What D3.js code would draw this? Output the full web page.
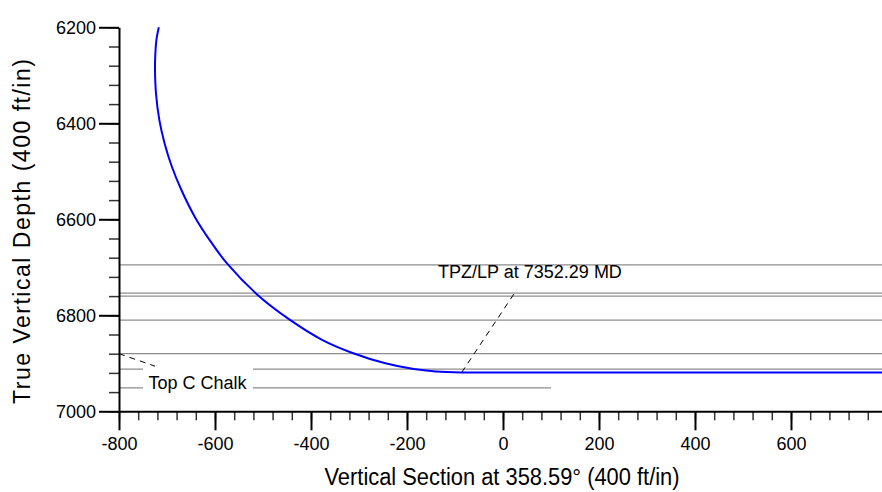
<!DOCTYPE html>
<html>
<head>
<meta charset="utf-8">
<script src="https://cdn.jsdelivr.net/npm/d3@7"></script>
<style>
  html,body{margin:0;padding:0;background:#fff;}
  svg{display:block;font-family:"Liberation Sans",Arial,Helvetica,sans-serif;}
</style>
</head>
<body>
<svg id="chart" width="882" height="492"></svg>
<script>
// well path (vertical section ft, TVD ft)
const wellVS  = [-717, -722, -724.5, -725, -723, -716, -705, -690, -670, -642, -610, -575, -513, -446, -377, -312, -245, -186, -140, -86, 0, 790];
const wellTVD = [6200, 6226, 6260, 6289, 6337, 6393, 6442, 6490, 6539, 6595, 6645, 6692, 6756, 6808, 6851, 6879, 6900, 6912, 6917, 6919, 6919, 6919];

// formation tops (TVD) and the VS where each line stops
const topsTVD   = [6695, 6754, 6760, 6810, 6880, 6912, 6951];
const topsEndVS = [800, 800, 800, 800, 800, 800, 100];

const xTicks = [-800, -600, -400, -200, 0, 200, 400, 600];
const yTicks = [6200, 6400, 6600, 6800, 7000];

const labels = ['TPZ/LP at 7352.29 MD', 'Top C Chalk'];
const xTitle = 'Vertical Section at 358.59\u00b0 (400 ft/in)';
const yTitle = 'True Vertical Depth (400 ft/in)';

const svg=d3.select('#chart');
const x=d3.scaleLinear().domain([-800, 789.6]).range([119, 882]);
const y=d3.scaleLinear().domain([6200, 7000]).range([27.3, 411.3]);
const grey='#8c8c8c', font='18px';

// formation top lines
svg.append('g').selectAll('line').data(topsTVD).enter().append('line')
  .attr('x1',x(-800)).attr('x2',(d,i)=>x(topsEndVS[i]))
  .attr('y1',d=>y(d)).attr('y2',d=>y(d))
  .attr('stroke',grey).attr('stroke-width',1.2);

// "Top C Chalk" label with white box over the lines
const chalk=svg.append('g');
chalk.append('rect').attr('x',143).attr('y',362).attr('width',110).attr('height',34).attr('fill','#fff');
chalk.append('line').attr('x1',x(-800)).attr('y1',y(6880)).attr('x2',x(-725)).attr('y2',y(6906))
  .attr('stroke','#000').attr('stroke-width',1).attr('stroke-dasharray','6,5');
chalk.append('text').attr('x',197.5).attr('y',389).attr('text-anchor','middle')
  .style('font-size',font).text(labels[1]);

// well path
const line=d3.line().x((d,i)=>x(wellVS[i])).y((d,i)=>y(wellTVD[i])).curve(d3.curveCatmullRom.alpha(0.5));
svg.append('path').datum(wellVS).attr('d',line).attr('fill','none').attr('stroke','#0000ff').attr('stroke-width',2);

// TPZ/LP leader + label
svg.append('line').attr('x1',x(-86)).attr('y1',y(6919)).attr('x2',x(28.5)).attr('y2',y(6747))
  .attr('stroke','#000').attr('stroke-width',1).attr('stroke-dasharray','6,5');
svg.append('text').attr('x',530).attr('y',277.7).attr('text-anchor','middle')
  .style('font-size',font).text(labels[0]);

// axes
function styleAxis(g){
  g.select('.domain').attr('stroke','#000').attr('stroke-width',2);
  g.selectAll('.tick line').attr('stroke','#000').attr('stroke-width',2);
  g.selectAll('.tick text').attr('fill','#000').style('font-size',font).style('font-family','"Liberation Sans",Arial,sans-serif');
}
const gx=svg.append('g').attr('transform','translate(0,411.3)');
gx.append('g').call(d3.axisBottom(x).tickValues(d3.range(-800,780,40)).tickSize(9).tickSizeOuter(0).tickFormat(''))
  .call(g=>{g.select('.domain').remove(); g.selectAll('.tick line').attr('stroke','#333').attr('stroke-width',1.5);});
gx.append('g').call(d3.axisBottom(x).tickValues(xTicks).tickSize(19).tickSizeOuter(0).tickPadding(7).tickFormat(d=>String(d)))
  .call(styleAxis);

const gy=svg.append('g').attr('transform','translate(119,0)');
gy.append('g').call(d3.axisLeft(y).tickValues(d3.range(6200,7001,40)).tickSize(10).tickSizeOuter(0).tickFormat(''))
  .call(g=>{g.select('.domain').remove(); g.selectAll('.tick line').attr('stroke','#333').attr('stroke-width',1.5);});
gy.append('g').call(d3.axisLeft(y).tickValues(yTicks).tickSize(20).tickSizeOuter(0).tickPadding(3).tickFormat(d=>String(d)))
  .call(styleAxis);

// titles
svg.append('text').attr('x',502).attr('y',485).attr('text-anchor','middle')
  .style('font-size','23px').attr('textLength',355).attr('lengthAdjust','spacingAndGlyphs').text(xTitle);
svg.append('text').attr('transform','translate(30,231.5) rotate(-90)').attr('text-anchor','middle')
  .style('font-size','23px').attr('textLength',345).attr('lengthAdjust','spacing').text(yTitle);
</script>
</body>
</html>
